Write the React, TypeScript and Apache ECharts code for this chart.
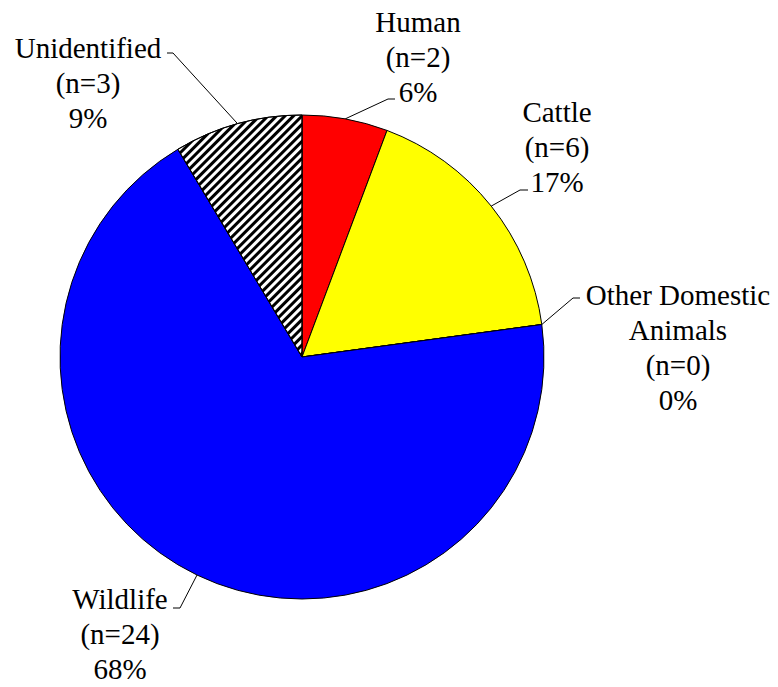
import { useEffect, useRef } from 'react';
import * as echarts from 'echarts';

const categories = ['Human', 'Cattle', 'Other Domestic\nAnimals', 'Wildlife', 'Unidentified'];
const counts = [2, 6, 0, 24, 3];
const percentLabels = [6, 17, 0, 68, 9];
const sliceColors = ['#FF0000', '#FFFF00', '#FFFFFF', '#0000FF', '#FFFFFF'];
const hatched = [false, false, false, false, true];

// layout: label block centres and leader-line knee/end points
const labelCenters = [[418, 57], [557, 147], [678, 347], [120, 634], [88, 83]];
const leaderTails = [
  [[388, 99], [395, 99]],
  [[520, 190], [528, 190]],
  [[573, 298], [580, 298]],
  [[180, 608], [173, 608]],
  [[173, 53], [167, 53]],
];

const SERIF = 'Liberation Serif';

export default function App() {
  const ref = useRef<HTMLDivElement>(null);
  useEffect(() => {
    if (!ref.current) return;
    const chart = echarts.init(ref.current, null, { renderer: 'svg' });
    const data = categories.map((name, i) => ({
      name,
      value: counts[i],
      itemStyle: {
        color: sliceColors[i],
        decal: hatched[i]
          ? { color: '#000000', symbol: 'rect', symbolSize: 1, dashArrayX: [1, 0], dashArrayY: [2.6, 2.6], rotation: -Math.PI / 4 }
          : undefined,
      },
    }));
    chart.setOption({
      animation: false,
      series: [
        {
          type: 'pie',
          center: [302, 357],
          radius: 242,
          startAngle: 90,
          clockwise: true,
          avoidLabelOverlap: false,
          stillShowZeroSum: true,
          minShowLabelAngle: 0,
          emphasis: { disabled: true },
          itemStyle: { borderColor: '#000000', borderWidth: 1 },
          label: {
            show: true,
            position: 'outside',
            color: '#000000',
            fontFamily: SERIF,
            fontSize: 29,
            lineHeight: 35,
            align: 'center',
            formatter: (p: any) => `${p.name}\n(n=${p.value})\n${percentLabels[p.dataIndex]}%`,
          },
          labelLine: { show: true, length: 20, length2: 10, smooth: false, lineStyle: { color: '#000000', width: 1 } },
          labelLayout: (params: any) => {
            const i = params.dataIndex;
            const edge = params.labelLinePoints ? params.labelLinePoints[0] : leaderTails[i][0];
            return {
              x: labelCenters[i][0],
              y: labelCenters[i][1],
              align: 'center',
              verticalAlign: 'middle',
              labelLinePoints: [edge, leaderTails[i][0], leaderTails[i][1]],
            };
          },
          data,
        },
      ],
    });
    return () => chart.dispose();
  }, []);
  return <div ref={ref} style={{ position: 'fixed', left: 0, top: 0, width: 778, height: 687, background: '#ffffff' }} />;
}
